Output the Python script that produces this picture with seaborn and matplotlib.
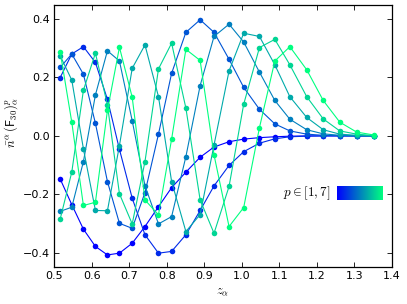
import numpy as np
import pandas as pd
import matplotlib
matplotlib.use('Agg')
import matplotlib.pyplot as plt
import seaborn as sns

# grid of z_alpha
z = [0.516, 0.547, 0.578, 0.610, 0.642, 0.674, 0.708, 0.742, 0.778, 0.813, 0.851, 0.889,
     0.926, 0.966, 1.005, 1.047, 1.088, 1.128, 1.173, 1.217, 1.261, 1.306, 1.352]

p1 = [-0.147, -0.235, -0.319, -0.378, -0.407, -0.401, -0.367, -0.310, -0.242, -0.177, -0.124, -0.073,
      -0.038, -0.020, -0.011, -0.006, -0.003, -0.001, 0.0, 0.0, 0.0, 0.0, 0.0]
p2 = [0.199, 0.280, 0.305, 0.251, 0.125, -0.046, -0.213, -0.338, -0.401, -0.395, -0.338, -0.255,
      -0.171, -0.101, -0.054, -0.025, -0.010, -0.003, -0.001, 0.0, 0.0, 0.0, 0.0]
p3 = [0.234, 0.280, 0.211, 0.043, -0.156, -0.299, -0.316, -0.194, 0.006, 0.214, 0.354, 0.397,
      0.354, 0.262, 0.166, 0.091, 0.041, 0.017, 0.006, 0.002, 0.001, 0.0, 0.0]
p4 = [-0.258, -0.244, -0.088, 0.140, 0.291, 0.256, 0.052, -0.170, -0.301, -0.276, -0.071, 0.172,
      0.340, 0.382, 0.321, 0.218, 0.121, 0.057, 0.021, 0.007, 0.002, 0.0, 0.0]
p5 = [0.274, 0.191, -0.044, -0.255, -0.256, -0.033, 0.231, 0.311, 0.134, -0.156, -0.327, -0.269,
      -0.031, 0.222, 0.351, 0.340, 0.243, 0.134, 0.063, 0.021, 0.006, 0.002, 0.0]
p6 = [-0.285, -0.124, 0.156, 0.283, 0.106, -0.198, -0.301, -0.088, 0.229, 0.317, 0.095, -0.219,
      -0.333, -0.173, 0.108, 0.302, 0.330, 0.243, 0.134, 0.058, 0.017, 0.006, 0.001]
p7 = [0.288, 0.047, -0.238, -0.227, 0.087, 0.303, 0.132, -0.219, -0.270, -0.011, 0.296, 0.258,
      -0.065, -0.310, -0.245, 0.028, 0.256, 0.305, 0.226, 0.121, 0.047, 0.013, 0.003]

curves = [p1, p2, p3, p4, p5, p6, p7]
p_vals = [1, 2, 3, 4, 5, 6, 7]

rows = []
for p, ys in zip(p_vals, curves):
    for x, y in zip(z, ys):
        rows.append({'z': x, 'val': y, 'p': p})
df = pd.DataFrame(rows)

sns.set_style('ticks')
plt.rcParams['mathtext.fontset'] = 'cm'
plt.rcParams['font.family'] = ['DejaVu Sans']
plt.rcParams['text.color'] = 'black'
plt.rcParams['axes.labelcolor'] = 'black'

colors = [plt.cm.winter(i / 6.0) for i in range(7)]

fig = plt.figure(figsize=(4.07, 3.04), dpi=100)
ax = fig.add_axes([0.133, 0.122, 0.830, 0.862])

sns.lineplot(data=df, x='z', y='val', hue='p', palette=colors, marker='o',
             markersize=4, markeredgewidth=0, linewidth=0.8, estimator=None,
             sort=False, legend=False, ax=ax)

ax.set_xlim(0.5, 1.4)
ax.set_ylim(-0.448, 0.448)
ax.set_xticks(np.arange(0.5, 1.41, 0.1))
ax.set_yticks([-0.4, -0.2, 0.0, 0.2, 0.4])
ax.set_xticklabels(['0.5', '0.6', '0.7', '0.8', '0.9', '1.0', '1.1', '1.2', '1.3', '1.4'])
ax.set_yticklabels(['\u22120.4', '\u22120.2', '0.0', '0.2', '0.4'])
ax.tick_params(direction='in', length=3.5, width=0.6, labelsize=8, top=True, right=True, pad=3,
               colors='black')
for s in ax.spines.values():
    s.set_linewidth(0.9)
    s.set_color('black')

ax.set_xlabel(r'$z_\alpha$', fontsize=9)
ax.set_ylabel(r'$\bar{n}^\alpha\,(\mathsf{F}_{30})^p_\alpha$', fontsize=9)
ax.yaxis.set_label_coords(-0.10, 0.55)
ax.xaxis.set_label_coords(0.5, -0.068)

# gradient "legend"
cax = fig.add_axes([0.828, 0.342, 0.111, 0.046])
cax.imshow(np.linspace(0, 1, 100).reshape(1, -1), aspect='auto', cmap='winter')
cax.set_xticks([])
cax.set_yticks([])
for s in cax.spines.values():
    s.set_visible(False)
fig.text(0.813, 0.365, r'$p \in [1,7]$', fontsize=9.5, ha='right', va='center')

fig.savefig('out.png', dpi=100)
